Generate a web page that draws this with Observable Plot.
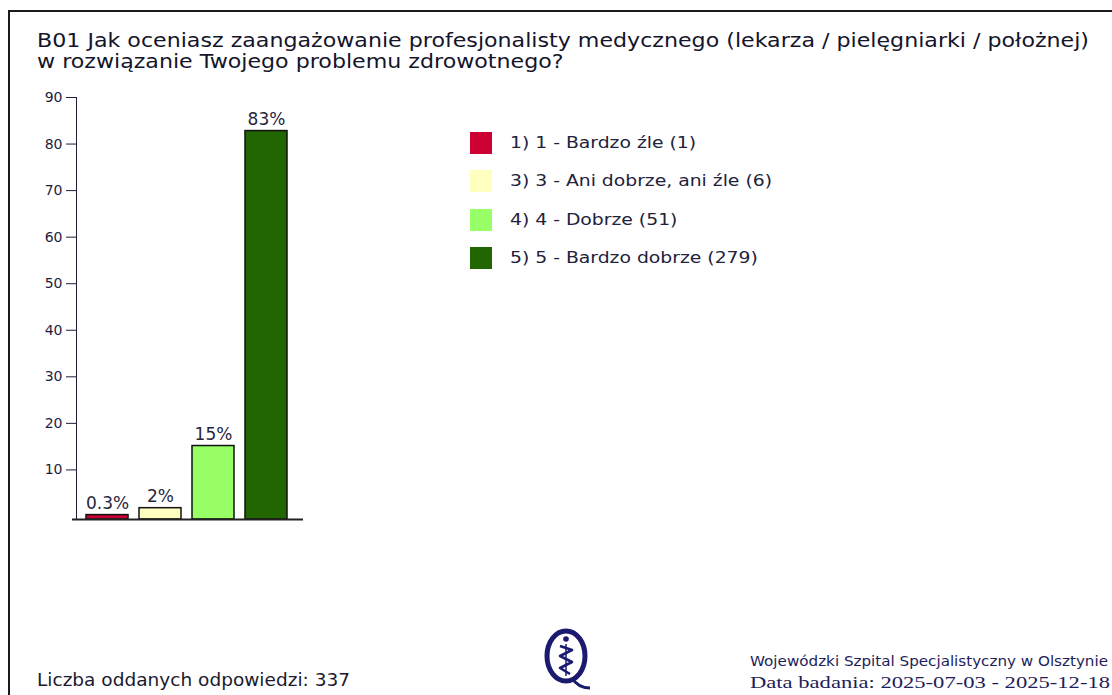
<!DOCTYPE html>
<html>
<head>
<meta charset="utf-8">
<script src="https://cdn.jsdelivr.net/npm/d3@7"></script>
<script src="https://cdn.jsdelivr.net/npm/@observablehq/plot@0.6"></script>
<style>
  html, body { margin: 0; padding: 0; background: #fff; }
  #wrap { position: relative; width: 1112px; height: 695px; overflow: hidden; font-family: "DejaVu Sans", Verdana, sans-serif; }
  #border { position: absolute; left: 8px; top: 10px; width: 1200px; height: 800px; border: 2px solid #1a1a1a; box-sizing: border-box; }
  .fit { position: absolute; white-space: nowrap; transform-origin: 0 0; display: inline-block; line-height: 1; }
  #chart { position: absolute; left: 0; top: 0; }
  .lg-sw { position: absolute; width: 22px; height: 22px; }
</style>
</head>
<body>
<div id="wrap">
  <div id="border"></div>
  <div id="chart"></div>
</div>
<script>
// ---- data ----
const titleLines = [
  "B01 Jak oceniasz zaangażowanie profesjonalisty medycznego (lekarza / pielęgniarki / położnej)",
  "w rozwiązanie Twojego problemu zdrowotnego?"
];
const categories = ["1) 1 - Bardzo źle", "3) 3 - Ani dobrze, ani źle", "4) 4 - Dobrze", "5) 5 - Bardzo dobrze"];
const counts = [1, 6, 51, 279];
const percentLabels = ["0.3%", "2%", "15%", "83%"];
const colors = ["#cc0033", "#ffffc0", "#99ff66", "#216600"];
const yTicks = [10, 20, 30, 40, 50, 60, 70, 80, 90];
const footerLeft = "Liczba oddanych odpowiedzi: 337";
const footerOrg = "Wojewódzki Szpital Specjalistyczny w Olsztynie";
const footerDate = "Data badania: 2025-07-03 - 2025-12-18";

const total = d3.sum(counts);
const rows = categories.map((c, i) => ({
  category: c,
  count: counts[i],
  pct: counts[i] / total * 100,
  label: percentLabels[i]
}));

// ---- chart ----
const W = 1112, H = 695;
const chart = Plot.plot({
  width: W,
  height: H,
  marginLeft: 76,
  marginRight: W - 297,
  marginTop: 97,
  marginBottom: H - 519,
  style: { fontFamily: "DejaVu Sans, Verdana, sans-serif", fontSize: "14px", color: "#1e1e3c", background: "transparent" },
  x: { type: "band", domain: categories, paddingInner: 0.2, paddingOuter: 0.148, axis: null },
  y: { domain: [-0.65, 90], ticks: yTicks, tickSize: 10, tickPadding: 4, line: true, label: null, tickFormat: d => d },
  color: { domain: categories, range: colors },
  marks: [
    Plot.barY(rows, { x: "category", y: "pct", fill: "category", stroke: "#111", strokeWidth: 1.5, insetBottom: -3 }),
    Plot.ruleY([0], { stroke: "#222", strokeWidth: 2, dy: 3, insetLeft: -4, insetRight: -6 }),
    Plot.text(rows, { x: "category", y: "pct", text: "label", lineAnchor: "bottom", dy: -6, fontSize: 17, fill: "#26263e" })
  ]
});
document.getElementById("chart").appendChild(chart);

// ---- overlays (title, legend, footer) ----
const wrap = document.getElementById("wrap");
function addText(txt, left, top, size, targetWidth, opts = {}) {
  const el = document.createElement("div");
  el.className = "fit";
  el.textContent = txt;
  el.style.left = left + "px";
  el.style.top = top + "px";
  el.style.fontSize = size + "px";
  el.style.color = opts.color || "#1a1a2e";
  if (opts.font) el.style.fontFamily = opts.font;
  wrap.appendChild(el);
  if (targetWidth) {
    const w = el.getBoundingClientRect().width;
    el.style.transform = `scaleX(${targetWidth / w})`;
  }
  return el;
}

// title (second line uses the same horizontal scale as the first)
const t1 = addText(titleLines[0], 37, 31, 19, 1052, { color: "#14142a" });
const t2 = addText(titleLines[1], 37, 52, 19, null, { color: "#14142a" });
t2.style.transform = t1.style.transform;

// legend
const legendTop = 132, legendStep = 38.3;
const legs = categories.map((c, i) => {
  const sw = document.createElement("div");
  sw.className = "lg-sw";
  sw.style.left = "470px";
  sw.style.top = (legendTop + i * legendStep) + "px";
  sw.style.background = colors[i];
  wrap.appendChild(sw);
  return addText(`${c} (${counts[i]})`, 510, legendTop + i * legendStep + 3, 16, null, { color: "#22223c" });
});
const legScale = 262 / legs[1].getBoundingClientRect().width;
legs.forEach(e => e.style.transform = `scaleX(${legScale})`);

// footer
addText(footerLeft, 37, 672, 17, 313, { color: "#1a1a2e" });
addText(footerOrg, 750, 654, 14, 358, { color: "#1e1e5a" });
addText(footerDate, 750, 674, 17, 360, { color: "#1e1e5a", font: "'Liberation Serif', 'DejaVu Serif', serif" });

// logo (decorative)
const ns = "http://www.w3.org/2000/svg";
const logo = document.createElementNS(ns, "svg");
logo.setAttribute("width", "60");
logo.setAttribute("height", "66");
logo.style.position = "absolute";
logo.style.left = "536px";
logo.style.top = "628px";
logo.innerHTML = `
  <ellipse cx="30" cy="28" rx="19" ry="25" fill="none" stroke="#1a1a6e" stroke-width="5"/>
  <path d="M36 50 Q42 60 54 60" fill="none" stroke="#1a1a6e" stroke-width="3"/>
  <circle cx="30" cy="11" r="2.8" fill="#1a1a6e"/>
  <path d="M24 18 L36 22 L24 28 L36 34 L24 40 L34 46" fill="none" stroke="#1a1a6e" stroke-width="2.6" stroke-linejoin="round"/>
  <path d="M30 16 L30 48" fill="none" stroke="#1a1a6e" stroke-width="1.5"/>
`;
wrap.appendChild(logo);
</script>
</body>
</html>
